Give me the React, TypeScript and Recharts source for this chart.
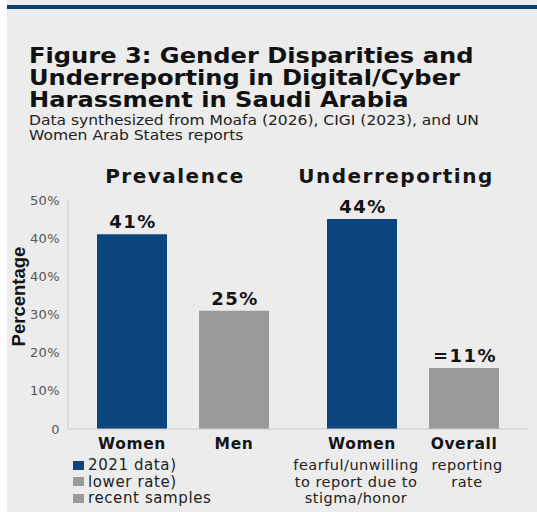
import React from "react";
import { BarChart, Bar, XAxis, YAxis, LabelList } from "recharts";

const groups = ["Prevalence", "Underreporting"];
const womenValues = [51, 55];
const otherValues = [31, 16];
const womenValueLabels = ["41%", "44%"];
const otherValueLabels = ["25%", "=11%"];
const womenNames = ["Women", "Women"];
const otherNames = ["Men", "Overall"];
const womenNotes = [[], ["fearful/unwilling", "to report due to", "stigma/honor"]];
const otherNotes = [[], ["reporting", "rate"]];
const yTicks = [0, 10, 20, 30, 40, 50, 60];
const yTickLabels = ["0", "10%", "20%", "30%", "40%", "40%", "50%"];
const legendLabels = ["2021 data)", "lower rate)", "recent samples"];

const BLUE = "#0a467d";
const GRAY = "#9a9a9a";
const FONT = "'DejaVu Sans', sans-serif";

const data = groups.map((group, i) => ({
  group,
  women: womenValues[i],
  other: otherValues[i],
}));

const legendColors = [BLUE, GRAY, GRAY];

function valueLabel(labels: string[]) {
  return (props: any) => {
    const { x, y, width, index } = props;
    return (
      <text
        x={x + width / 2 + 1}
        y={y - 6}
        textAnchor="middle"
        fontFamily={FONT}
        fontWeight={700}
        fontSize={18}
        style={{ letterSpacing: 1.5 }}
        fill="#151515"
      >
        {labels[index]}
      </text>
    );
  };
}

function nameLabel(names: string[], notes: string[][], shift: number) {
  return (props: any) => {
    const { x, y, width, height, index } = props;
    const cx = x + width / 2;
    const base = y + height;
    return (
      <g>
        <text
          x={cx}
          y={base + 20}
          textAnchor="middle"
          fontFamily={FONT}
          fontWeight={700}
          fontSize={15.5}
          style={{ letterSpacing: 0.6 }}
          fill="#151515"
        >
          {names[index]}
        </text>
        {notes[index].map((line, k) => (
          <text
            key={k}
            x={cx + shift}
            y={base + 41 + k * 16.5}
            textAnchor="middle"
            fontFamily={FONT}
            fontSize={14.5}
            style={{ letterSpacing: 0.5 }}
            fill="#222"
          >
            {line}
          </text>
        ))}
      </g>
    );
  };
}

function GroupTick(props: any) {
  const { x, y, payload, index } = props;
  return (
    <text
      x={x - 8 - index * 9}
      y={y - 9}
      textAnchor="middle"
      fontFamily={FONT}
      fontWeight={700}
      fontSize={20}
      style={{ letterSpacing: 1.5 }}
      fill="#151515"
    >
      {payload.value}
    </text>
  );
}

function YLabel(props: any) {
  const { viewBox } = props;
  const cx = viewBox.x + 11;
  const cy = viewBox.y + viewBox.height / 2 - 18;
  return (
    <text
      x={cx}
      y={cy}
      transform={`rotate(-90 ${cx} ${cy})`}
      textAnchor="middle"
      dominantBaseline="central"
      fontFamily="'Liberation Sans', Arial, sans-serif"
      fontWeight={700}
      fontSize={18.5}
      fill="#151515"
    >
      Percentage
    </text>
  );
}

export default function App() {
  return (
    <div
      style={{
        position: "absolute",
        left: 7,
        top: 0,
        width: 530,
        height: 512,
        background: "#ececec",
        overflow: "hidden",
      }}
    >
      <div style={{ position: "absolute", left: 0, top: 5, width: "100%", height: 4, background: "#0d3f6e" }} />
      <div
        style={{
          position: "absolute",
          left: 22,
          top: 45,
          fontFamily: FONT,
          fontWeight: 700,
          fontSize: 21,
          lineHeight: "22px",
          color: "#111",
          whiteSpace: "nowrap",
          transform: "scaleX(1.15)",
          transformOrigin: "0 0",
        }}
      >
        Figure 3: Gender Disparities and
        <br />
        Underreporting in Digital/Cyber
        <br />
        Harassment in Saudi Arabia
      </div>
      <div
        style={{
          position: "absolute",
          left: 22,
          top: 113,
          fontFamily: FONT,
          fontSize: 13.5,
          lineHeight: "15px",
          color: "#222",
          whiteSpace: "nowrap",
          transform: "scaleX(1.15)",
          transformOrigin: "0 0",
        }}
      >
        Data synthesized from Moafa (2026), CIGI (2023), and UN
        <br />
        Women Arab States reports
      </div>
      <div style={{ position: "absolute", left: 0, top: 150 }}>
        <BarChart
          width={529}
          height={362}
          data={data}
          margin={{ top: 0, right: 8, bottom: 53, left: 0 }}
          barGap={32}
          barSize={70}
        >
          <XAxis
            xAxisId="top"
            orientation="top"
            dataKey="group"
            height={50}
            axisLine={false}
            tickLine={false}
            tick={<GroupTick />}
          />
          <XAxis
            dataKey="group"
            height={30}
            tick={false}
            tickLine={false}
            axisLine={{ stroke: "#c9c9c9" }}
          />
          <YAxis
            width={61}
            domain={[0, 60]}
            ticks={yTicks}
            interval={0}
            tickFormatter={(v: number) => yTickLabels[yTicks.indexOf(v)]}
            axisLine={{ stroke: "#c9c9c9" }}
            tickLine={false}
            tick={{ fontSize: 13, fill: "#555", fontFamily: FONT, style: { letterSpacing: 0.4 } }}
            label={<YLabel />}
          />
          <Bar dataKey="women" fill={BLUE} isAnimationActive={false}>
            <LabelList dataKey="women" content={valueLabel(womenValueLabels)} />
            <LabelList dataKey="women" content={nameLabel(womenNames, womenNotes, -6)} />
          </Bar>
          <Bar dataKey="other" fill={GRAY} isAnimationActive={false}>
            <LabelList dataKey="other" content={valueLabel(otherValueLabels)} />
            <LabelList dataKey="other" content={nameLabel(otherNames, otherNotes, 3)} />
          </Bar>
        </BarChart>
      </div>
      <div
        style={{
          position: "absolute",
          left: 66,
          top: 457,
          fontFamily: FONT,
          fontSize: 15,
          lineHeight: "16.5px",
          letterSpacing: 0.6,
          color: "#222",
        }}
      >
        {legendLabels.map((label, i) => (
          <div key={i} style={{ display: "flex", alignItems: "center", whiteSpace: "nowrap" }}>
            <span
              style={{
                display: "inline-block",
                width: 11,
                height: 9,
                background: legendColors[i],
                marginRight: 4,
              }}
            />
            {label}
          </div>
        ))}
      </div>
    </div>
  );
}
